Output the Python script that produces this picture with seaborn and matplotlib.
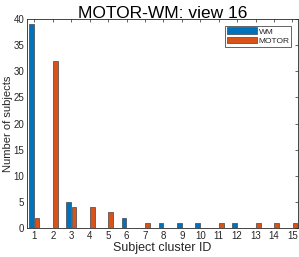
import numpy as np
import pandas as pd
import seaborn as sns
from matplotlib import pyplot as plt

cluster_ids = list(range(1, 16))
wm_counts = [39, 0, 5, 0, 0, 2, 0, 1, 1, 1, 0, 1, 0, 0, 0]
motor_counts = [2, 32, 4, 4, 3, 0, 1, 0, 0, 0, 1, 0, 1, 1, 1]
series_names = ['WM', 'MOTOR']
series_colors = ['#0072BD', '#D95319']

df = pd.DataFrame({
    'cluster': cluster_ids * 2,
    'count': wm_counts + motor_counts,
    'task': [series_names[0]] * 15 + [series_names[1]] * 15,
})

sns.set_style('white')
plt.rcParams['font.family'] = ['Liberation Sans', 'DejaVu Sans']

fig = plt.figure(figsize=(2.99, 2.57), dpi=100)
ax = fig.add_axes([0.0903, 0.1128, 0.9064, 0.8132])

sns.barplot(data=df, x='cluster', y='count', hue='task', hue_order=series_names,
            palette=series_colors, width=0.56, gap=0.1, ax=ax,
            edgecolor='#444444', linewidth=0.5, saturation=1, legend=True)

ax.set_xlim(-0.4, 14.3)
ax.set_ylim(0, 40)
ax.set_yticks(np.arange(0, 41, 5))
ax.set_xticks(range(15))
ax.set_xticklabels([str(c) for c in cluster_ids])
ax.tick_params(axis='both', direction='in', length=2.5, width=0.5, labelsize=7,
               top=True, right=True, pad=2, color='#262626', labelcolor='#262626')
for s in ax.spines.values():
    s.set_visible(True)
    s.set_linewidth(0.6)
    s.set_color('#262626')

ax.set_title('MOTOR-WM: view 16', fontsize=12.5, pad=1, color='black')
ax.set_xlabel('Subject cluster ID', fontsize=9, labelpad=1, color='#262626')
ax.set_ylabel('Number of subjects', fontsize=8, color='#262626')
ax.yaxis.set_label_coords(-0.05, 0.5)

leg = ax.legend(loc='upper right', fontsize=6, handlelength=3.6, handleheight=0.9,
                borderpad=0.2, labelspacing=0.1, handletextpad=0.2,
                borderaxespad=0.8, fancybox=False, framealpha=1)
leg.get_frame().set_edgecolor('#262626')
leg.get_frame().set_linewidth(0.5)

fig.savefig('out.png', dpi=100)
